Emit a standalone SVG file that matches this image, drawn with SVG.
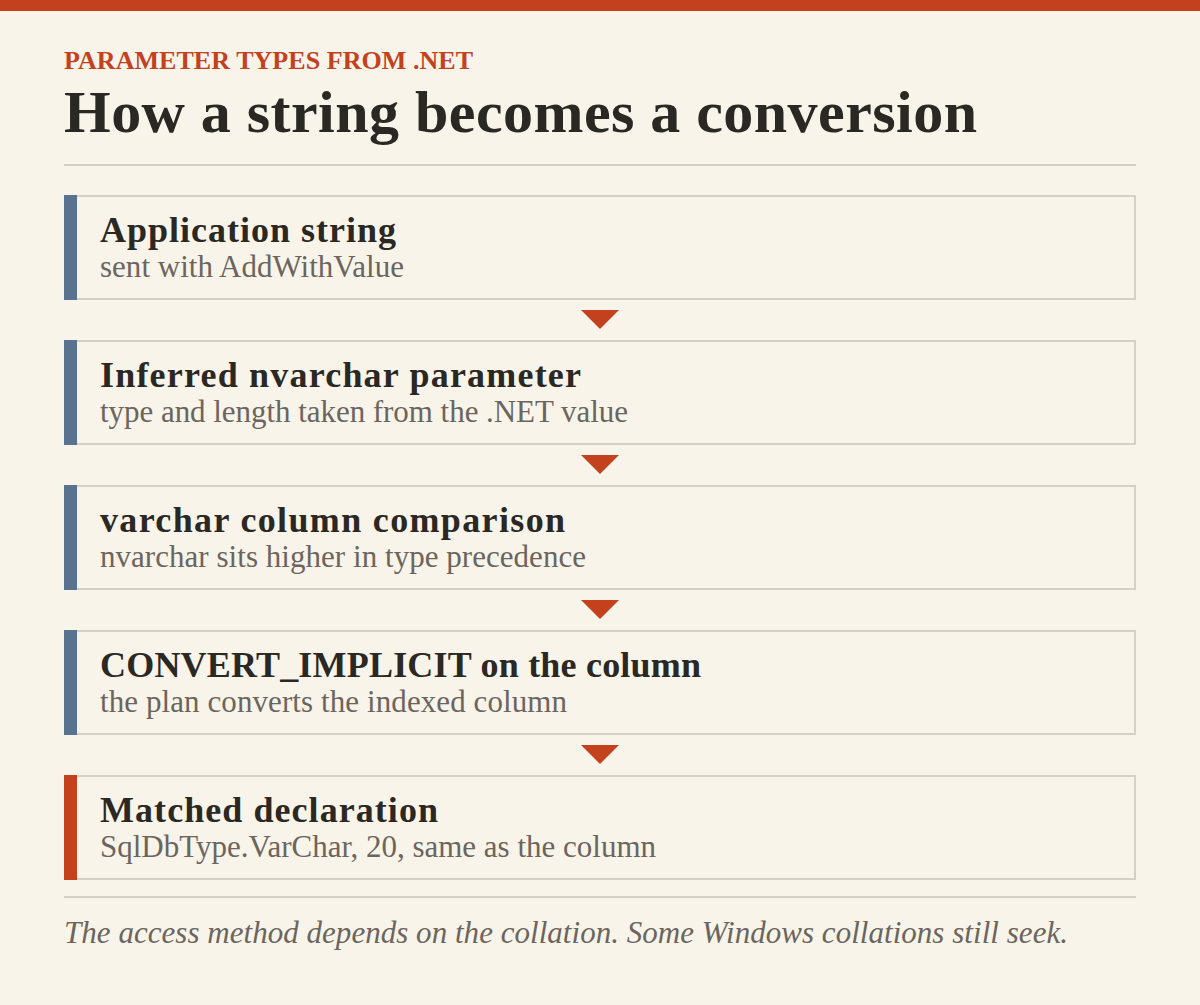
<svg xmlns="http://www.w3.org/2000/svg" width="1200" height="1005" viewBox="0 0 1200 1005">
  <style>
    .eyebrow { font-family: "Liberation Serif", "Times New Roman", serif; font-weight: bold; font-size: 26px; fill: #C4411E; }
    .title { font-family: "Liberation Serif", "Times New Roman", serif; font-weight: bold; font-size: 60px; fill: #2B2824; }
    .box { fill: #F8F4EA; stroke: #D6CFC4; stroke-width: 2; }
    .bar-blue { fill: #587390; }
    .bar-red { fill: #C4411E; }
    .ntitle { font-family: "Liberation Serif", "Times New Roman", serif; font-weight: bold; font-size: 36px; fill: #2B2824; }
    .nsub { font-family: "Liberation Serif", "Times New Roman", serif; font-size: 31px; fill: #6B655D; }
    .rule { stroke: #D6CFC4; stroke-width: 2; }
    .arrow { fill: #C4411E; }
    .foot { font-family: "Liberation Serif", "Times New Roman", serif; font-style: italic; font-size: 31px; fill: #6B655D; }
  </style>
  <rect x="0" y="0" width="1200" height="1005" fill="#F8F4EA"/>
  <rect x="0" y="0" width="1200" height="11" fill="#C4411E"/>
  <text class="eyebrow" x="64" y="69" textLength="409" lengthAdjust="spacing">PARAMETER TYPES FROM .NET</text>
  <text class="title" x="64" y="132" textLength="913" lengthAdjust="spacing">How a string becomes a conversion</text>
  <line class="rule" x1="64" y1="165" x2="1136" y2="165"/>

  <g id="node-1">
    <rect class="box" x="65" y="196" width="1070" height="103"/>
    <rect class="bar-blue" x="64" y="195" width="13" height="105"/>
    <text class="ntitle" x="100" y="242" textLength="296" lengthAdjust="spacing">Application string</text>
    <text class="nsub" x="100" y="277" textLength="304" lengthAdjust="spacing">sent with AddWithValue</text>
  </g>
  <g id="node-2">
    <rect class="box" x="65" y="341" width="1070" height="103"/>
    <rect class="bar-blue" x="64" y="340" width="13" height="105"/>
    <text class="ntitle" x="100" y="387" textLength="481" lengthAdjust="spacing">Inferred nvarchar parameter</text>
    <text class="nsub" x="100" y="422" textLength="528" lengthAdjust="spacing">type and length taken from the .NET value</text>
  </g>
  <g id="node-3">
    <rect class="box" x="65" y="486" width="1070" height="103"/>
    <rect class="bar-blue" x="64" y="485" width="13" height="105"/>
    <text class="ntitle" x="100" y="532" textLength="465" lengthAdjust="spacing">varchar column comparison</text>
    <text class="nsub" x="100" y="567" textLength="486" lengthAdjust="spacing">nvarchar sits higher in type precedence</text>
  </g>
  <g id="node-4">
    <rect class="box" x="65" y="631" width="1070" height="103"/>
    <rect class="bar-blue" x="64" y="630" width="13" height="105"/>
    <text class="ntitle" x="100" y="677" textLength="601" lengthAdjust="spacing">CONVERT_IMPLICIT on the column</text>
    <text class="nsub" x="100" y="712" textLength="467" lengthAdjust="spacing">the plan converts the indexed column</text>
  </g>
  <g id="node-5">
    <rect class="box" x="65" y="776" width="1070" height="103"/>
    <rect class="bar-red" x="64" y="775" width="13" height="105"/>
    <text class="ntitle" x="100" y="822" textLength="338" lengthAdjust="spacing">Matched declaration</text>
    <text class="nsub" x="100" y="857" textLength="556" lengthAdjust="spacing">SqlDbType.VarChar, 20, same as the column</text>
  </g>

  <g id="connectors">
    <polygon class="arrow" points="581,310 619,310 600,329"/>
    <polygon class="arrow" points="581,455 619,455 600,474"/>
    <polygon class="arrow" points="581,600 619,600 600,619"/>
    <polygon class="arrow" points="581,745 619,745 600,764"/>
  </g>

  <line class="rule" x1="64" y1="897" x2="1136" y2="897"/>
  <text class="foot" x="64" y="943" textLength="1004" lengthAdjust="spacing">The access method depends on the collation. Some Windows collations still seek.</text>
</svg>
